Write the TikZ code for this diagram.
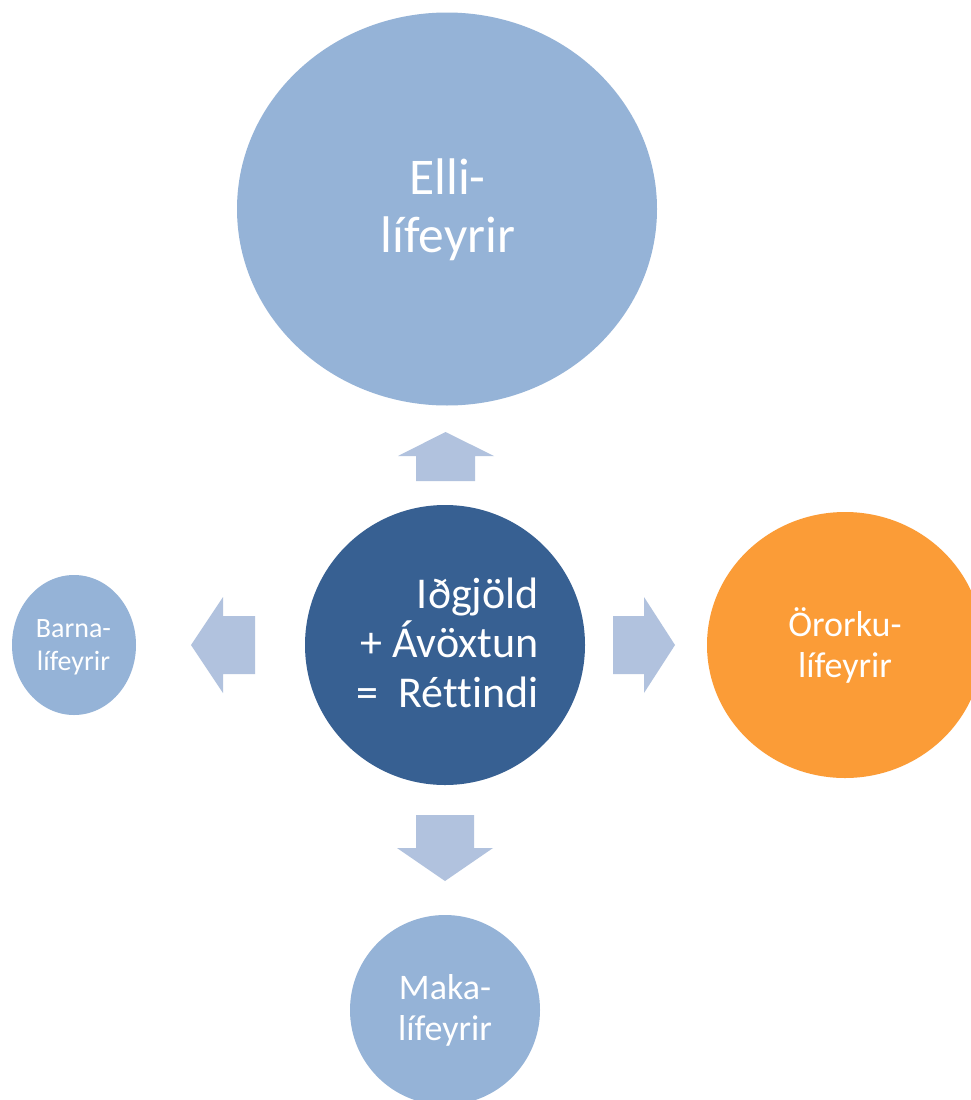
\documentclass[tikz,border=0pt]{standalone}
\usepackage{fontspec}
\setmainfont[Ligatures={NoCommon}]{Carlito}
\usetikzlibrary{shapes.geometric}
\definecolor{lightblue}{HTML}{95B3D7}
\definecolor{darkblue}{HTML}{376092}
\definecolor{orangefill}{HTML}{FB9C37}
\definecolor{arrowblue}{HTML}{B1C2DE}
\tikzset{
  blob/.style={ellipse, inner sep=0pt, draw=none},
  arrowshape/.style={fill=arrowblue, draw=none},
  lbl/.style={anchor=base, inner sep=0pt, text=white},
}
\begin{document}
\begin{tikzpicture}[x=1pt, y=-1pt]
\useasboundingbox (0,0) rectangle (971,1100);
\clip (0,0) rectangle (971,1100);
\fill[white] (0,0) rectangle (971,1100);
% circles
\node[blob, fill=lightblue, minimum width=420pt, minimum height=393pt] (elli) at (447,209) {};
\node[blob, fill=darkblue, minimum width=280pt, minimum height=280pt] (centre) at (445,645) {};
\node[blob, fill=lightblue, minimum width=124pt, minimum height=140pt] (barna) at (74,645) {};
\node[blob, fill=orangefill, minimum width=276pt, minimum height=266pt] (ororku) at (845,645) {};
\node[blob, fill=lightblue, minimum width=190pt, minimum height=190pt] (maka) at (445,1010) {};
% block arrows
\fill[arrowshape] (416,481) -- (416,456) -- (398,456) -- (445.5,432) -- (494,456) -- (475,456) -- (475,481) -- cycle;
\fill[arrowshape] (613,616) -- (644,616) -- (644,597) -- (675,645) -- (644,693) -- (644,674) -- (613,674) -- cycle;
\fill[arrowshape] (255,616) -- (223,616) -- (223,597) -- (191,645) -- (223,693) -- (223,674) -- (255,674) -- cycle;
\fill[arrowshape] (416,815) -- (474,815) -- (474,848) -- (493,848) -- (445,881) -- (397,848) -- (416,848) -- cycle;
% texts
\node[lbl, font=\fontsize{51.5}{60}\selectfont] (elli1) at (447.5,194) {Elli-};
\node[lbl, font=\fontsize{51.5}{60}\selectfont] (elli2) at (448,252) {lífeyrir};
\node[lbl, anchor=base east, font=\fontsize{44}{50}\selectfont] (c1) at (539,608) {Iðgjöld};
\node[lbl, anchor=base east, font=\fontsize{44}{50}\selectfont] (c2) at (539,657) {+ Ávöxtun};
\node[lbl, anchor=base east, font=\fontsize{44}{50}\selectfont] (c3) at (539,707) {=\ \ Réttindi};
\node[lbl, font=\fontsize{36}{41}\selectfont] (o1) at (845,636) {Örorku-};
\node[lbl, font=\fontsize{36}{41}\selectfont] (o2) at (845,677) {lífeyrir};
\node[lbl, font=\fontsize{28}{33}\selectfont] (b1) at (73.5,637) {Barna-};
\node[lbl, font=\fontsize{28}{33}\selectfont] (b2) at (73.5,670) {lífeyrir};
\node[lbl, font=\fontsize{36}{41}\selectfont] (m1) at (445,999) {Maka-};
\node[lbl, font=\fontsize{36}{41}\selectfont] (m2) at (445,1040) {lífeyrir};
\end{tikzpicture}
\end{document}
